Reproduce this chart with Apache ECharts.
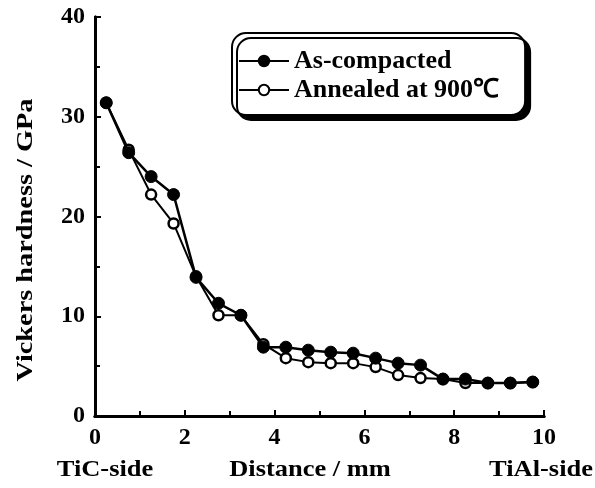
<!doctype html>
<html lang="en">
<head>
    <meta charset="UTF-8">
    <script src="https://cdn.jsdelivr.net/npm/echarts@6/dist/echarts.min.js"></script>
    <title>Vickers hardness</title>
</head>
<body style="margin:0;background:#fff">
<div id="main" style="width: 595px;height:488px;"></div>
<script>
    // distance from TiC side, mm
    var distance = [0.25, 0.75, 1.25, 1.75, 2.25, 2.75, 3.25, 3.75, 4.25, 4.75,
                    5.25, 5.75, 6.25, 6.75, 7.25, 7.75, 8.25, 8.75, 9.25, 9.75];
    // hardness, GPa
    var asCompacted = [31.4, 26.4, 24.0, 22.2, 13.9, 11.3, 10.1, 6.9, 6.9, 6.6,
                       6.4, 6.3, 5.8, 5.3, 5.1, 3.7, 3.7, 3.3, 3.3, 3.4];
    var annealed = [31.4, 26.7, 22.2, 19.3, 14.0, 10.1, 10.1, 7.2, 5.8, 5.4,
                    5.3, 5.3, 4.9, 4.1, 3.8, 3.7, 3.3, 3.3, 3.3, 3.4];

    function pairs(xs, ys) {
        var out = [];
        for (var i = 0; i < xs.length; i++) {
            out.push([xs[i], ys[i]]);
        }
        return out;
    }

    var font = 'Liberation Serif';
    var myChart = echarts.init(document.getElementById('main'));
    var option = {
        animation: false,
        grid: { left: 95, right: 51, top: 17, bottom: 72 },
        legend: {
            left: 232, top: 33,
            orient: 'vertical',
            itemWidth: 50, itemHeight: 13, itemGap: 3,
            padding: [15, 26, 12, 6],
            backgroundColor: '#fff',
            borderColor: '#000', borderWidth: 2, borderRadius: 14,
            shadowColor: '#000', shadowBlur: 0, shadowOffsetX: 5, shadowOffsetY: 5,
            textStyle: { fontFamily: font, fontWeight: 'bold', fontSize: 26, color: '#000' },
            data: ['As-compacted', 'Annealed at 900℃']
        },
        xAxis: [{
            type: 'value', min: 0, max: 10, interval: 2,
            axisLine: { lineStyle: { color: '#000', width: 3 } },
            axisTick: { inside: true, length: 6, lineStyle: { width: 2 } },
            minorTick: { show: true, splitNumber: 2, length: 5, lineStyle: { color: '#000', width: 2 } },
            splitLine: { show: false },
            axisLabel: { fontFamily: font, fontWeight: 'bold', fontSize: 24, color: '#000', margin: 10 }
        }, {
            type: 'value', min: 0, max: 10, position: 'top',
            axisLine: { show: true, lineStyle: { color: '#000', width: 3 } },
            axisTick: { show: false }, axisLabel: { show: false }, splitLine: { show: false }
        }],
        yAxis: [{
            type: 'value', min: 0, max: 40, interval: 10,
            axisLine: { show: true, lineStyle: { color: '#000', width: 3 } },
            axisTick: { inside: true, length: 6, lineStyle: { width: 2 } },
            minorTick: { show: true, splitNumber: 2, length: 5, lineStyle: { color: '#000', width: 2 } },
            splitLine: { show: false },
            axisLabel: { fontFamily: font, fontWeight: 'bold', fontSize: 24, color: '#000', margin: 10 }
        }, {
            type: 'value', min: 0, max: 40, position: 'right',
            axisLine: { show: true, lineStyle: { color: '#000', width: 3 } },
            axisTick: { show: false }, axisLabel: { show: false }, splitLine: { show: false }
        }],
        graphic: [
            { type: 'text', x: 26, y: 240, rotation: Math.PI / 2, scaleX: 1.18,
              style: { text: 'Vickers hardness / GPa', font: 'bold 24px ' + font, fill: '#000',
                       align: 'center', verticalAlign: 'middle' } },
            { type: 'text', x: 105, y: 470, scaleX: 1.15,
              style: { text: 'TiC-side', font: 'bold 23px ' + font, fill: '#000',
                       align: 'center', verticalAlign: 'middle' } },
            { type: 'text', x: 310, y: 470, scaleX: 1.15,
              style: { text: 'Distance / mm', font: 'bold 23px ' + font, fill: '#000',
                       align: 'center', verticalAlign: 'middle' } },
            { type: 'text', x: 541, y: 470, scaleX: 1.15,
              style: { text: 'TiAl-side', font: 'bold 23px ' + font, fill: '#000',
                       align: 'center', verticalAlign: 'middle' } }
        ],
        series: [{
            name: 'Annealed at 900℃',
            type: 'line',
            data: pairs(distance, annealed),
            symbol: 'circle', symbolSize: 10,
            itemStyle: { color: '#fff', borderColor: '#000', borderWidth: 2.5 },
            lineStyle: { color: '#000', width: 2 },
            z: 2
        }, {
            name: 'As-compacted',
            type: 'line',
            data: pairs(distance, asCompacted),
            symbol: 'circle', symbolSize: 12,
            itemStyle: { color: '#000', borderColor: '#000', borderWidth: 1 },
            lineStyle: { color: '#000', width: 2.5 },
            z: 3
        }]
    };
    myChart.setOption(option);
</script>
</body>
</html>
